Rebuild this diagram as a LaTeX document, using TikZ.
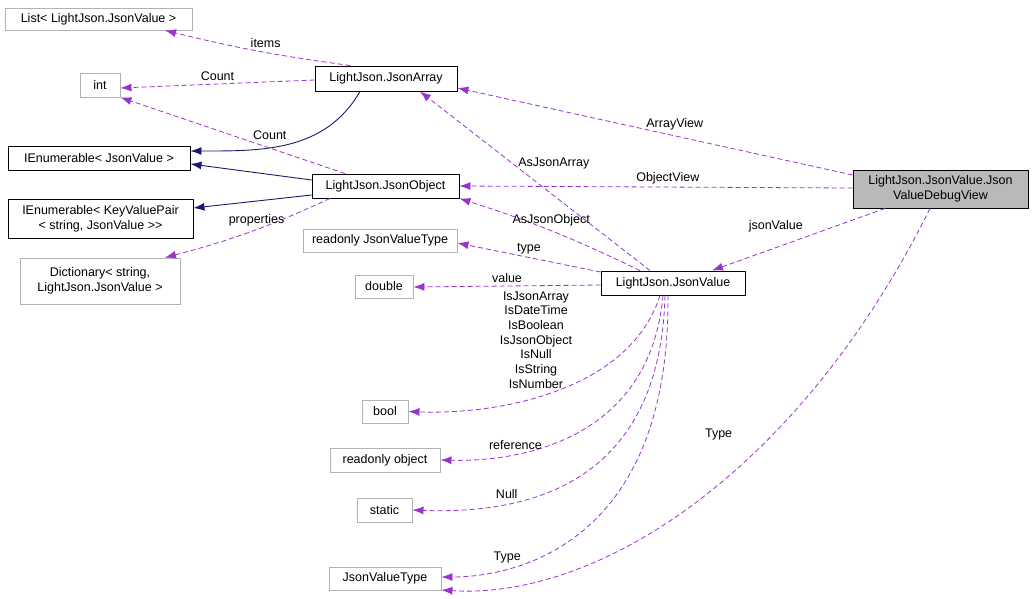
\documentclass[tikz,border=0pt]{standalone}
\usepackage{fontspec}
\setmainfont{Liberation Sans}
\usetikzlibrary{arrows.meta}
\definecolor{dep}{HTML}{9A32CD}
\definecolor{inh}{HTML}{191970}
\begin{document}
\begin{tikzpicture}[x=1pt,y=-1pt,
  every node/.style={font=\fontsize{12.5}{14.7}\selectfont,inner sep=0pt,text=black},
  cls/.style={draw=black,line width=0.9pt,align=center},
  ext/.style={draw=gray!60,line width=0.9pt,align=center},
  use/.style={dep,dash pattern=on 5pt off 3pt,line width=0.8pt,-{Latex[length=11pt,width=8pt]}},
  isa/.style={inh,line width=0.9pt,-{Latex[length=11pt,width=8pt]}},
  lbl/.style={align=center,text=black}]
\useasboundingbox (0,0) rectangle (1035,599);
\node[ext,minimum width=187,minimum height=22] (list) at (98.5,19) {List< LightJson.JsonValue >};
\node[ext,minimum width=40,minimum height=24] (int) at (100,85) {int};
\node[cls,minimum width=182,minimum height=24] (ienum) at (99,158) {IEnumerable< JsonValue >};
\node[cls,minimum width=185,minimum height=39] (ikvp) at (100.5,218.5) {IEnumerable< KeyValuePair\\< string, JsonValue {>}{>}};
\node[ext,minimum width=160,minimum height=46] (dict) at (100,281) {Dictionary< string,\\ LightJson.JsonValue >};
\node[cls,minimum width=142,minimum height=25] (arr) at (386,78.5) {LightJson.JsonArray};
\node[cls,minimum width=147,minimum height=24] (obj) at (385.5,186) {LightJson.JsonObject};
\node[ext,minimum width=154,minimum height=23] (rjvt) at (380,240.5) {readonly JsonValueType};
\node[ext,minimum width=58,minimum height=23] (dbl) at (384,286.5) {double};
\node[cls,minimum width=144,minimum height=24] (jv) at (673,283) {LightJson.JsonValue};
\node[ext,minimum width=46,minimum height=23] (bool) at (385,411.5) {bool};
\node[ext,minimum width=110,minimum height=24] (robj) at (385,460) {readonly object};
\node[ext,minimum width=55,minimum height=24] (stat) at (384.5,510) {static};
\node[ext,minimum width=112,minimum height=23] (jvt) at (385,578.5) {JsonValueType};
\node[draw=black,fill=gray!55,line width=0.9pt,align=center,minimum width=175,minimum height=38] (dv) at (940.5,189) {LightJson.JsonValue.Json\\ValueDebugView};

\draw[use] (arr.160) to[bend left=3] node[lbl,pos=0.45,above=4pt] {items} (list.south east -| 165,0);
\draw[use] (arr.west |- 0,80) -- node[lbl,above=3pt] {Count} (int.east |- 0,88);
\draw[isa] (arr.south -| 360,0) to[out=-120,in=0] (ienum.east |- 0,151);
\draw[use] (obj.north -| 345,0) -- node[lbl,pos=0.42,above right=2pt] {Count} (int.south east);
\draw[isa] (obj.west |- 0,180) -- (ienum.east |- 0,164);
\draw[isa] (obj.west |- 0,195) -- (ikvp.east |- 0,208);
\draw[use] (obj.south -| 330,0) to[bend left=5] node[lbl,pos=0.45,above=3pt] {properties} (dict.north east -| 165,0);

\draw[use] (dv.west |- 0,175) -- node[lbl,pos=0.45,above=5pt] {ArrayView} (arr.east |- 0,88);
\draw[use] (dv.west |- 0,188) -- node[lbl,pos=0.47,above=3pt] {ObjectView} (obj.east |- 0,186);
\draw[use] (dv.south -| 885,0) -- node[lbl,pos=0.45,above left=4pt] {jsonValue} (jv.north -| 712,0);
\draw[use] (dv.south -| 930,0) .. controls (800,470) and (600,600) .. node[lbl,pos=0.35,left=40pt] {Type} (jvt.east |- 0,590);

\draw[use] (jv.north -| 650,0) -- node[lbl,pos=0.6,right=6pt] {AsJsonArray} (arr.south -| 420,0);
\draw[use] (jv.north -| 640,0) to[bend right=4] node[lbl,pos=0.5,above=4pt] {AsJsonObject} (obj.south east);
\draw[use] (jv.west |- 0,272) -- node[lbl,above=3pt] {type} (rjvt.east |- 0,243);
\draw[use] (jv.west |- 0,285) -- node[lbl,above=3pt] {value} (dbl.east |- 0,287);
\draw[use] (jv.south -| 660,0) .. controls (630,390) and (500,415) .. (bool.east);
\node[lbl] (flags) at (536,340) {IsJsonArray\\IsDateTime\\IsBoolean\\IsJsonObject\\IsNull\\IsString\\IsNumber};
\draw[use] (jv.south -| 663,0) .. controls (650,440) and (520,462) .. node[lbl,pos=0.72,above=4pt] {reference} (robj.east);
\draw[use] (jv.south -| 665,0) .. controls (660,490) and (520,514) .. node[lbl,pos=0.72,above=5pt] {Null} (stat.east);
\draw[use] (jv.south -| 668,0) .. controls (670,540) and (520,577) .. node[lbl,pos=0.76,above=5pt] {Type} (jvt.east |- 0,577);
\end{tikzpicture}
\end{document}
